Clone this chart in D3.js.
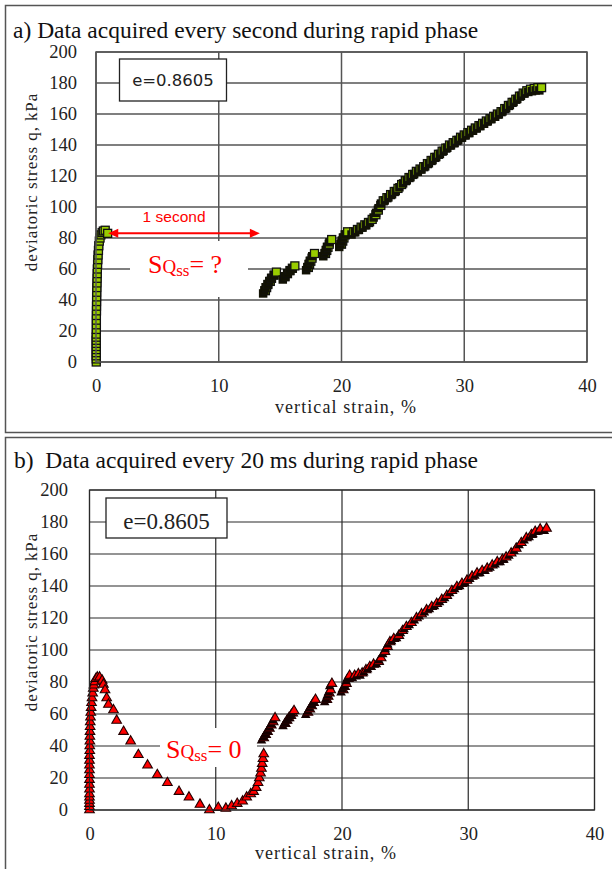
<!DOCTYPE html>
<html>
<head>
  <script src="https://d3js.org/d3.v7.min.js"></script>
  <style>
    body { margin: 0; background: #fff; }
    text { font-family: "Liberation Serif", "Times New Roman", serif; }
  </style>
</head>
<body>
  <svg id="canvas" width="612" height="869"></svg>
  <script>
    // axis ticks
    const xTicks = [0, 10, 20, 30, 40];
    const yTicks = [0, 20, 40, 60, 80, 100, 120, 140, 160, 180, 200];

    // a) every second: [vertical strain %, q kPa]
    const stackA = [[0.02,0],[0.02,2],[0.02,4],[0.02,6],[0.02,8],[0.02,10],[0.02,12],[0.02,14],[0.02,16],[0.02,18],
      [0.03,21],[0.03,24],[0.03,27],[0.03,30],[0.04,33],[0.04,36],[0.05,39],[0.05,42],[0.06,45],[0.07,48],
      [0.08,51],[0.09,54],[0.1,57],[0.11,60],[0.13,63],[0.15,66],[0.17,69],[0.2,72],[0.23,75],[0.27,78],
      [0.33,80],[0.4,82],[0.5,83.5],[0.6,84.5],[0.75,85],[0.95,83]];
    const clustersA = [[13.8,46],[13.9,48],[14.0,50],[14.2,52],[14.3,54],[14.5,56],[14.7,58],
      [15.4,55],[15.6,57],[15.8,59],[16.0,60.5],[16.2,62],
      [17.3,61],[17.4,63],[17.5,65],[17.6,67],[17.8,70],
      [18.7,70],[18.8,72],[18.9,74],[19.0,76],[19.2,79],
      [20.0,76],[20.1,78],[20.2,80],[20.3,82],[20.5,84]];
    const lineA = [[21.0,84],[21.3,85.5],[21.6,87],[21.9,88.5],[22.2,90],[22.5,92],[22.8,95],[23.0,98],[23.2,101],[23.4,104],
      [23.7,106],[24.0,108],[24.3,110],[24.6,112],[24.9,114.5],[25.2,117],[25.5,119],[25.8,121],[26.1,123],[26.4,124.5],
      [26.7,126],[27.0,128],[27.3,130],[27.6,132],[27.9,134],[28.2,136],[28.5,138],[28.8,140],[29.1,141.5],[29.4,143],
      [29.7,145],[30.0,146.5],[30.3,148],[30.6,149.5],[30.9,151],[31.2,152.5],[31.5,154],[31.8,155.5],[32.1,157],[32.4,158.5],
      [32.7,160],[33.0,161.5],[33.3,163.5],[33.6,165.5],[33.9,167.5],[34.2,169.5],[34.5,171.5],[34.8,173.5],[35.1,175],[35.4,176],
      [35.7,176.5],[36.0,177],[36.3,177]];

    // b) every 20 ms
    const stackB = [[0,0],[0,2],[0,4],[0,6],[0,8],[0,10],[0,13],[0,16],[0,19],[0,22],[0,25],[0,28],[0,31],[0,34],
      [0.02,37],[0.02,40],[0.03,43],[0.03,46],[0.04,49],[0.05,52],[0.06,55],[0.08,58],[0.1,61],[0.13,64],
      [0.16,67],[0.2,70],[0.25,73],[0.3,76],[0.35,78],[0.42,80],[0.5,82],[0.62,83]];
    const descentB = [[0.8,83],[1.0,81],[1.1,78.5],[1.23,75],[1.36,70],[1.5,66],[1.9,62.5],[2.15,56],[2.7,49],[3.26,43],
      [3.87,34.5],[4.6,28],[5.37,22],[6.17,17],[7.09,11.5],[7.88,8],[8.75,3.5],[9.5,0],[10.2,1.5],[10.8,1],
      [11.26,2.5],[11.7,4],[12.13,5.5],[12.45,8],[12.77,10],[13.0,11.5],[13.2,14],[13.35,17],[13.45,20],[13.55,23],
      [13.62,26],[13.68,29],[13.74,32],[13.8,35]];
    const clustersB = [[13.8,45],[13.95,47],[14.1,49],[14.25,51],[14.4,53],[14.55,55],[14.7,57.5],
      [15.5,54],[15.65,56],[15.8,57.5],[15.95,59],[16.1,60.5],[16.2,62],
      [17.3,61],[17.45,63],[17.6,65],[17.75,67],[17.9,69],
      [18.8,69],[18.9,71],[19.0,73],[19.1,75],[19.2,79],
      [20.1,75],[20.2,77],[20.35,79],[20.5,82],[20.6,84]];
    const lineB = [[21.0,84],[21.3,85],[21.6,85.5],[21.9,87.5],[22.2,89.5],[22.5,91],[22.9,92.7],[23.1,95],[23.4,99],[23.6,102],
      [23.8,105],[24.1,107],[24.5,109],[24.8,112],[25.1,114.5],[25.5,117],[25.9,120],[26.3,122.5],[26.7,125],[27.1,127],
      [27.5,129],[27.9,131.5],[28.3,134],[28.7,137],[29.1,139.5],[29.5,141.5],[29.9,143.5],[30.3,146],[30.7,148],[31.1,149.5],
      [31.5,151],[31.9,153],[32.3,155],[32.7,156.5],[33.0,158],[33.4,160.5],[33.8,163.5],[34.2,167],[34.6,170],[35.0,172],
      [35.3,174],[35.7,175.5],[36.2,176]];

    const svg = d3.select("#canvas");
    svg.append("rect").attr("width", 612).attr("height", 869).attr("fill", "#fff");

    function drawPanel(p) {
      const g = svg.append("g");

      // outer frame (runs off the right edge)
      g.append("rect")
        .attr("x", 5.5).attr("y", p.frameTop).attr("width", 640).attr("height", p.frameH)
        .attr("fill", "none").attr("stroke", "#555").attr("stroke-width", 1.5);

      g.append("text").attr("x", p.titleX).attr("y", p.titleY)
        .attr("font-size", 23.5).attr("fill", "#111").style("white-space", "pre")
        .text(p.title);

      const x = d3.scaleLinear().domain([0, 40]).range([p.left, p.right]);
      const y = d3.scaleLinear().domain([0, 200]).range([p.bottom, p.top]);

      // grid
      g.append("g").selectAll("line").data(yTicks).join("line")
        .attr("x1", p.left).attr("x2", p.right)
        .attr("y1", d => y(d)).attr("y2", d => y(d))
        .attr("stroke", p.grid).attr("stroke-width", p.gridW);
      g.append("g").selectAll("line").data(xTicks).join("line")
        .attr("x1", d => x(d)).attr("x2", d => x(d))
        .attr("y1", p.top).attr("y2", p.bottom)
        .attr("stroke", p.grid).attr("stroke-width", p.gridW);

      // axes labels
      const xa = g.append("g").attr("transform", `translate(0,${p.bottom})`)
        .call(d3.axisBottom(x).tickValues(xTicks).tickSize(0).tickPadding(17));
      const ya = g.append("g").attr("transform", `translate(${p.left},0)`)
        .call(d3.axisLeft(y).tickValues(yTicks).tickSize(0).tickPadding(p.yPad));
      [xa, ya].forEach(a => {
        a.select(".domain").remove();
        a.attr("font-size", 18.5).attr("font-family", null);
        a.selectAll("text").attr("fill", "#222");
      });

      g.append("text").attr("x", p.xTitleX).attr("y", p.bottom + p.xTitleDy)
        .attr("text-anchor", "middle").attr("font-size", 18).attr("letter-spacing", 1.1)
        .attr("fill", "#222").text("vertical strain, %");
      g.append("text")
        .attr("transform", `translate(37,${p.yTitleY}) rotate(-90)`)
        .attr("text-anchor", "middle").attr("font-size", 17).attr("letter-spacing", 0.9)
        .attr("fill", "#222").text("deviatoric stress q, kPa");

      // annotation white box (hides grid behind the label)
      g.append("rect").attr("x", p.noteBox[0]).attr("y", p.noteBox[1])
        .attr("width", p.noteBox[2]).attr("height", p.noteBox[3]).attr("fill", "#fff");
      const note = g.append("text").attr("x", p.noteX).attr("y", p.noteY)
        .attr("fill", "#ff0000").attr("font-size", 26);
      note.append("tspan").text("S");
      note.append("tspan").attr("font-size", 19).text("Q");
      note.append("tspan").attr("font-size", 17).attr("dy", 3).text("ss");
      note.append("tspan").attr("font-size", 26).attr("dy", -3).text(p.noteTail);

      // legend box
      g.append("rect").attr("x", p.legend[0]).attr("y", p.legend[1])
        .attr("width", p.legend[2]).attr("height", p.legend[3])
        .attr("fill", "#fff").attr("stroke", "#222").attr("stroke-width", 1.3);
      g.append("text").attr("x", p.legend[0] + p.legend[2] / 2).attr("y", p.legendBase)
        .attr("text-anchor", "middle").attr("font-size", p.legendSize)
        .style("font-family", p.legendFont).attr("fill", "#222").text("e=0.8605");

      // markers; dense runs get a dark drop shadow drawn just before each marker
      const pts = g.append("g");
      const tri = d3.symbol(d3.symbolTriangle, 40)();
      p.series.forEach(s => {
        const m = pts.selectAll(null).data(s.data).join("g")
          .attr("transform", d => `translate(${x(d[0])},${y(d[1])})`);
        if (p.marker === "square") {
          if (s.shadow) m.append("rect").attr("x", -6.5).attr("y", -1.5).attr("width", 8.5).attr("height", 8.5)
            .attr("fill", "#121204");
          m.append("rect").attr("x", -4).attr("y", -4).attr("width", 8).attr("height", 8)
            .attr("fill", "#99cc00").attr("stroke", "#111").attr("stroke-width", 1.3);
        } else {
          if (s.shadow) m.append("path").attr("d", tri).attr("transform", "translate(-2.2,2.8)")
            .attr("fill", "#150000");
          m.append("path").attr("d", tri)
            .attr("fill", "#ff0000").attr("stroke", "#220000").attr("stroke-width", 1.1);
        }
      });

      // plot border on top
      g.append("rect").attr("x", p.left).attr("y", p.top)
        .attr("width", p.right - p.left).attr("height", p.bottom - p.top)
        .attr("fill", "none").attr("stroke", p.grid).attr("stroke-width", p.gridW);

      return { x, y, g };
    }

    const pa = drawPanel({
      frameTop: 5.5, frameH: 427, titleX: 13, titleY: 38,
      title: "a) Data acquired every second during rapid phase",
      left: 96, right: 587, top: 52, bottom: 362,
      grid: "#555", gridW: 1.5, yPad: 19, xTitleX: 346, xTitleDy: 51, yTitleY: 182,
      noteBox: [130, 241, 118, 56], noteX: 148, noteY: 273, noteTail: "= ?",
      legend: [119.5, 59, 107, 42], legendBase: 86, legendSize: 16.5, legendFont: "DejaVu Sans",
      marker: "square",
      series: [{ data: stackA }, { data: clustersA, shadow: true }, { data: lineA, shadow: true }]
    });

    // "1 second" arrow in panel a
    const arrowY = pa.y(83), ax1 = pa.x(1.0), ax2 = pa.x(13.35);
    pa.g.append("line").attr("x1", ax1 + 8).attr("x2", ax2 - 8).attr("y1", arrowY).attr("y2", arrowY)
      .attr("stroke", "#ff0000").attr("stroke-width", 2);
    pa.g.append("path").attr("d", `M${ax1},${arrowY}l10,-4.5v9z`).attr("fill", "#ff0000");
    pa.g.append("path").attr("d", `M${ax2},${arrowY}l-10,-4.5v9z`).attr("fill", "#ff0000");
    pa.g.append("text").attr("x", (ax1 + ax2) / 2 - 10).attr("y", arrowY - 11)
      .attr("text-anchor", "middle").attr("font-size", 15.5)
      .style("font-family", "'Liberation Sans', Arial, sans-serif")
      .attr("fill", "#ff0000").text("1 second");

    drawPanel({
      frameTop: 437.5, frameH: 460, titleX: 14, titleY: 468,
      title: "b)  Data acquired every 20 ms during rapid phase",
      left: 89.5, right: 594.5, top: 490, bottom: 810,
      grid: "#2a2a2a", gridW: 1.2, yPad: 21.5, xTitleX: 326, xTitleDy: 49, yTitleY: 622,
      noteBox: [160, 728, 97, 39], noteX: 166, noteY: 758, noteTail: "= 0",
      legend: [106, 498, 121, 40], legendBase: 529, legendSize: 23, legendFont: "'Liberation Serif', serif",
      marker: "triangle",
      series: [{ data: stackB }, { data: descentB }, { data: clustersB, shadow: true }, { data: lineB, shadow: true }]
    });
  </script>
</body>
</html>
